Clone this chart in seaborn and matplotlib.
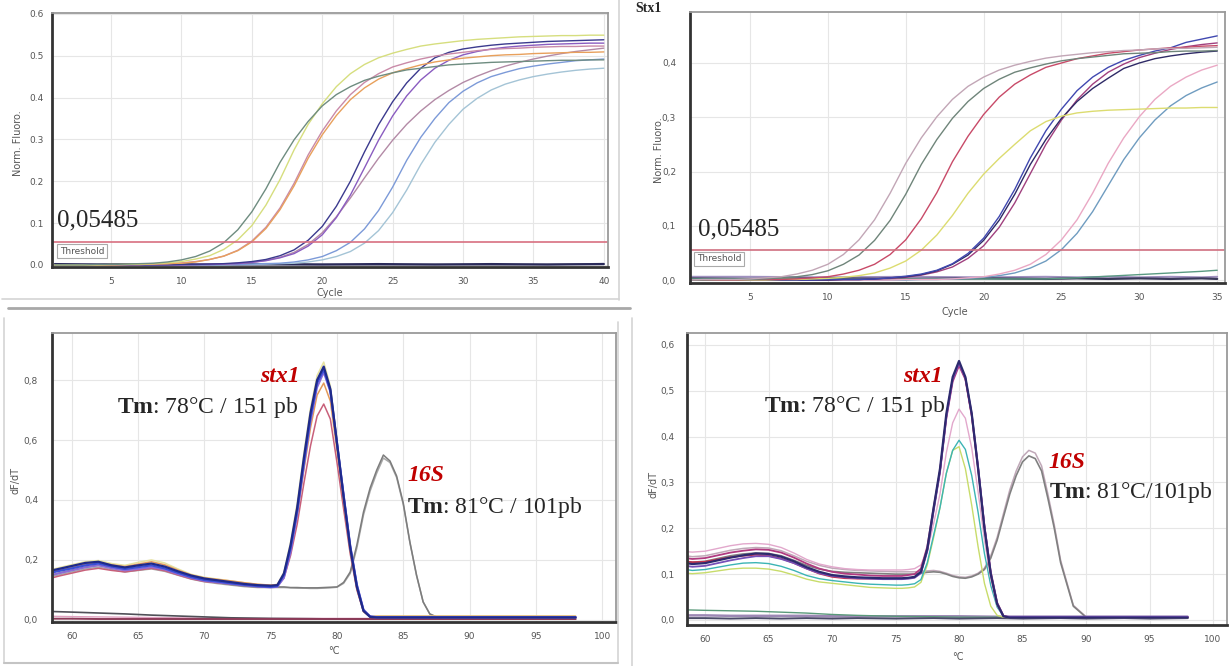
import matplotlib
matplotlib.use("Agg")
import matplotlib.pyplot as plt
from matplotlib.lines import Line2D
import seaborn as sns

sns.set_style("whitegrid")
plt.rcParams['font.family'] = ['DejaVu Sans']
plt.rcParams['mathtext.fontset'] = 'custom'
plt.rcParams['mathtext.rm'] = 'Liberation Serif'
plt.rcParams['mathtext.bf'] = 'Liberation Serif:bold'

W, H = 1230, 666
threshold = 0.05485

# ---------------- amplification, left (40 cycles) ----------------
cycles_tl = list(range(1, 41))
tl_gray = [0.000, 0.000, 0.000, 0.001, 0.001, 0.002, 0.003, 0.004, 0.007, 0.012,
           0.020, 0.033, 0.053, 0.084, 0.127, 0.182, 0.245, 0.299, 0.343, 0.380,
           0.407, 0.426, 0.441, 0.451, 0.459, 0.466, 0.470, 0.474, 0.478, 0.480,
           0.482, 0.484, 0.485, 0.486, 0.487, 0.488, 0.489, 0.489, 0.490, 0.490]
tl_yellow = [0.000, 0.000, 0.000, 0.000, 0.001, 0.001, 0.002, 0.003, 0.005, 0.008,
             0.014, 0.022, 0.037, 0.060, 0.094, 0.143, 0.204, 0.275, 0.336, 0.385,
             0.426, 0.457, 0.479, 0.495, 0.506, 0.515, 0.523, 0.528, 0.532, 0.536,
             0.539, 0.541, 0.543, 0.545, 0.546, 0.547, 0.548, 0.548, 0.549, 0.549]
tl_orange = [0.000, 0.000, 0.000, 0.000, 0.000, 0.001, 0.001, 0.002, 0.003, 0.004,
             0.007, 0.013, 0.021, 0.034, 0.055, 0.087, 0.132, 0.189, 0.255, 0.311,
             0.357, 0.395, 0.423, 0.444, 0.459, 0.469, 0.478, 0.485, 0.490, 0.494,
             0.497, 0.500, 0.502, 0.503, 0.505, 0.506, 0.507, 0.508, 0.508, 0.509]
tl_pink = [0.000, 0.000, 0.000, 0.000, 0.000, 0.001, 0.001, 0.002, 0.003, 0.005,
           0.008, 0.013, 0.021, 0.035, 0.057, 0.090, 0.136, 0.195, 0.263, 0.320,
           0.368, 0.407, 0.436, 0.457, 0.473, 0.483, 0.492, 0.499, 0.504, 0.508,
           0.512, 0.515, 0.517, 0.518, 0.520, 0.521, 0.522, 0.522, 0.523, 0.523]
tl_navy = [0.000, 0.000, 0.000, 0.000, 0.000, 0.000, 0.000, 0.000, 0.000, 0.001,
           0.001, 0.002, 0.003, 0.005, 0.008, 0.013, 0.022, 0.036, 0.059, 0.092,
           0.140, 0.200, 0.270, 0.335, 0.390, 0.435, 0.470, 0.495, 0.508, 0.516,
           0.521, 0.525, 0.528, 0.530, 0.532, 0.534, 0.535, 0.536, 0.537, 0.538]
tl_purple = [0.000, 0.000, 0.000, 0.000, 0.000, 0.000, 0.000, 0.000, 0.000, 0.000,
             0.001, 0.001, 0.002, 0.003, 0.006, 0.010, 0.017, 0.027, 0.045, 0.072,
             0.113, 0.167, 0.232, 0.298, 0.356, 0.404, 0.442, 0.470, 0.489, 0.502,
             0.510, 0.516, 0.520, 0.523, 0.525, 0.527, 0.528, 0.529, 0.530, 0.530]
tl_mauve = [0.000, 0.000, 0.000, 0.000, 0.000, 0.000, 0.000, 0.000, 0.000, 0.000,
            0.001, 0.001, 0.002, 0.004, 0.006, 0.011, 0.018, 0.030, 0.049, 0.077,
            0.115, 0.160, 0.208, 0.255, 0.298, 0.336, 0.368, 0.395, 0.417, 0.436,
            0.451, 0.464, 0.475, 0.484, 0.492, 0.499, 0.505, 0.510, 0.514, 0.518]
tl_blue = [0.000, 0.000, 0.000, 0.000, 0.000, 0.000, 0.000, 0.000, 0.000, 0.000,
           0.000, 0.000, 0.001, 0.001, 0.002, 0.003, 0.004, 0.007, 0.012, 0.020,
           0.034, 0.054, 0.086, 0.130, 0.186, 0.250, 0.305, 0.350, 0.388, 0.415,
           0.435, 0.450, 0.460, 0.469, 0.475, 0.480, 0.484, 0.488, 0.490, 0.492]
tl_lightblue = [0.000, 0.000, 0.000, 0.000, 0.000, 0.000, 0.000, 0.000, 0.000, 0.000,
                0.000, 0.000, 0.000, 0.001, 0.001, 0.002, 0.003, 0.004, 0.007, 0.012,
                0.020, 0.032, 0.052, 0.082, 0.125, 0.179, 0.240, 0.293, 0.336, 0.372,
                0.398, 0.418, 0.432, 0.442, 0.450, 0.456, 0.461, 0.465, 0.468, 0.470]
neg_cycles_tl = [1, 4, 8, 12, 16, 20, 24, 28, 32, 36, 40]
tl_neg_dark = [0.002, 0.001, 0.002, 0.001, 0.002, 0.001, 0.002, 0.001, 0.002, 0.001, 0.002]
tl_neg_gray = [0.000, 0.001, 0.000, 0.001, 0.000, 0.001, 0.000, 0.001, 0.000, 0.001, 0.003]

# ---------------- amplification, right (35 cycles) ----------------
cycles_tr = list(range(1, 36))
tr_pinkgray = [0.000, 0.001, 0.001, 0.001, 0.002, 0.004, 0.006, 0.011, 0.018, 0.029,
               0.047, 0.074, 0.111, 0.160, 0.215, 0.262, 0.301, 0.333, 0.357, 0.374,
               0.387, 0.396, 0.403, 0.409, 0.413, 0.416, 0.419, 0.421, 0.423, 0.424,
               0.426, 0.427, 0.427, 0.428, 0.429]
tr_darkgray = [0.000, 0.000, 0.001, 0.001, 0.001, 0.002, 0.004, 0.006, 0.010, 0.017,
               0.029, 0.046, 0.073, 0.110, 0.158, 0.213, 0.259, 0.298, 0.329, 0.353,
               0.370, 0.383, 0.391, 0.398, 0.404, 0.408, 0.411, 0.414, 0.417, 0.418,
               0.419, 0.421, 0.422, 0.422, 0.423]
tr_red = [0.000, 0.000, 0.000, 0.000, 0.001, 0.001, 0.001, 0.002, 0.004, 0.006,
          0.011, 0.018, 0.029, 0.047, 0.074, 0.113, 0.161, 0.218, 0.265, 0.305,
          0.337, 0.361, 0.378, 0.392, 0.400, 0.408, 0.413, 0.418, 0.421, 0.424,
          0.426, 0.428, 0.429, 0.431, 0.432]
tr_yellow = [0.000, 0.000, 0.000, 0.000, 0.000, 0.000, 0.001, 0.001, 0.002, 0.003,
             0.005, 0.008, 0.013, 0.022, 0.035, 0.055, 0.083, 0.119, 0.160, 0.195,
             0.224, 0.250, 0.275, 0.292, 0.302, 0.308, 0.311, 0.313, 0.314, 0.315,
             0.316, 0.317, 0.317, 0.318, 0.318]
tr_blue = [0.000, 0.000, 0.000, 0.000, 0.000, 0.000, 0.000, 0.000, 0.000, 0.001,
           0.001, 0.001, 0.002, 0.004, 0.007, 0.011, 0.018, 0.030, 0.049, 0.077,
           0.117, 0.167, 0.225, 0.275, 0.315, 0.349, 0.374, 0.392, 0.405, 0.414,
           0.422, 0.428, 0.438, 0.444, 0.450]
tr_navy = [0.000, 0.000, 0.000, 0.000, 0.000, 0.000, 0.000, 0.000, 0.000, 0.000,
           0.001, 0.001, 0.002, 0.004, 0.006, 0.010, 0.017, 0.029, 0.046, 0.073,
           0.110, 0.158, 0.213, 0.259, 0.298, 0.329, 0.353, 0.372, 0.390, 0.400,
           0.408, 0.413, 0.417, 0.420, 0.422]
tr_magenta = [0.000, 0.000, 0.000, 0.000, 0.000, 0.000, 0.000, 0.000, 0.000, 0.000,
              0.001, 0.001, 0.002, 0.003, 0.005, 0.009, 0.015, 0.024, 0.040, 0.063,
              0.097, 0.142, 0.196, 0.250, 0.295, 0.332, 0.361, 0.383, 0.398, 0.410,
              0.418, 0.425, 0.430, 0.434, 0.437]
tr_pink = [0.000, 0.000, 0.000, 0.000, 0.000, 0.000, 0.000, 0.000, 0.000, 0.000,
           0.000, 0.000, 0.000, 0.000, 0.001, 0.001, 0.001, 0.002, 0.004, 0.006,
           0.011, 0.018, 0.029, 0.047, 0.074, 0.111, 0.160, 0.215, 0.262, 0.301,
           0.333, 0.357, 0.374, 0.387, 0.396]
tr_teal = [0.000, 0.000, 0.000, 0.000, 0.000, 0.000, 0.000, 0.000, 0.000, 0.000,
           0.000, 0.000, 0.000, 0.000, 0.000, 0.001, 0.001, 0.002, 0.003, 0.005,
           0.008, 0.013, 0.022, 0.035, 0.056, 0.086, 0.126, 0.174, 0.222, 0.262,
           0.295, 0.321, 0.340, 0.354, 0.365]
neg_cycles_tr = [1, 5, 10, 15, 20, 24, 26, 28, 30, 32, 34, 35]
tr_green = [0.002, 0.002, 0.002, 0.002, 0.002, 0.002, 0.004, 0.007, 0.010, 0.013, 0.016, 0.018]
tr_neg_dark = [0.003, 0.002, 0.003, 0.002, 0.003, 0.002, 0.003, 0.002, 0.003, 0.002, 0.003, 0.002]
tr_neg_lav = [0.006, 0.006, 0.005, 0.006, 0.005, 0.006, 0.005, 0.006, 0.005, 0.006, 0.005, 0.006]

# ---------------- melt curves (shared temperature grid) ----------------
temps = [58.5, 59, 60, 61, 62, 63, 64, 65, 66, 67, 68, 69, 70, 71, 72, 73, 74, 75,
         75.5, 76, 76.5, 77, 77.5, 78, 78.5, 79, 79.5, 80, 80.5, 81, 81.5, 82, 82.5,
         83, 83.5, 84, 84.5, 85, 85.5, 86, 86.5, 87, 87.5, 88,
         89, 90, 91, 92, 93, 94, 95, 96, 97, 98]
neg_temps = [58.5, 60, 62, 64, 66, 68, 70, 72, 75, 78, 80, 83, 85, 88, 90, 93, 95, 98]

bl_navy = ([0.165, 0.170, 0.180, 0.190, 0.194, 0.182, 0.175, 0.182, 0.188, 0.178, 0.162, 0.148, 0.138, 0.132, 0.126, 0.120, 0.116, 0.114]
           + [0.116, 0.155, 0.250, 0.375, 0.540, 0.690, 0.800, 0.845, 0.770, 0.590, 0.410, 0.240, 0.110, 0.030, 0.010, 0.008, 0.008, 0.008, 0.008, 0.008, 0.008, 0.008, 0.008, 0.008, 0.008, 0.008]
           + [0.008, 0.008, 0.008, 0.008, 0.008, 0.008, 0.008, 0.008, 0.008, 0.008])
bl_blue = ([0.158, 0.163, 0.172, 0.182, 0.188, 0.178, 0.170, 0.176, 0.182, 0.172, 0.157, 0.143, 0.133, 0.128, 0.122, 0.117, 0.113, 0.110]
           + [0.113, 0.150, 0.240, 0.365, 0.525, 0.675, 0.790, 0.835, 0.765, 0.590, 0.415, 0.245, 0.115, 0.032, 0.011, 0.009, 0.009, 0.009, 0.009, 0.009, 0.009, 0.009, 0.009, 0.009, 0.009, 0.009]
           + [0.009, 0.009, 0.009, 0.009, 0.009, 0.009, 0.009, 0.009, 0.009, 0.009])
bl_purple = ([0.150, 0.155, 0.165, 0.175, 0.182, 0.172, 0.165, 0.170, 0.176, 0.168, 0.153, 0.140, 0.130, 0.125, 0.120, 0.115, 0.111, 0.108]
             + [0.110, 0.140, 0.225, 0.350, 0.510, 0.660, 0.775, 0.825, 0.760, 0.590, 0.420, 0.250, 0.120, 0.035, 0.012, 0.010, 0.010, 0.010, 0.010, 0.010, 0.010, 0.010, 0.010, 0.010, 0.010, 0.010]
             + [0.010, 0.010, 0.010, 0.010, 0.010, 0.010, 0.010, 0.010, 0.010, 0.010])
bl_orange = ([0.160, 0.166, 0.176, 0.186, 0.192, 0.184, 0.178, 0.186, 0.194, 0.184, 0.166, 0.150, 0.140, 0.135, 0.130, 0.124, 0.119, 0.116]
             + [0.118, 0.150, 0.235, 0.350, 0.500, 0.640, 0.750, 0.790, 0.730, 0.565, 0.395, 0.230, 0.105, 0.028, 0.010, 0.012, 0.012, 0.012, 0.012, 0.012, 0.012, 0.012, 0.012, 0.012, 0.012, 0.012]
             + [0.012, 0.012, 0.012, 0.012, 0.012, 0.012, 0.012, 0.012, 0.012, 0.012])
bl_pink = ([0.140, 0.146, 0.156, 0.166, 0.172, 0.165, 0.160, 0.166, 0.172, 0.164, 0.150, 0.137, 0.128, 0.124, 0.120, 0.116, 0.112, 0.110]
           + [0.112, 0.140, 0.215, 0.320, 0.455, 0.580, 0.680, 0.720, 0.670, 0.525, 0.370, 0.220, 0.100, 0.028, 0.010, 0.007, 0.007, 0.007, 0.007, 0.007, 0.007, 0.007, 0.007, 0.007, 0.007, 0.007]
           + [0.007, 0.007, 0.007, 0.007, 0.007, 0.007, 0.007, 0.007, 0.007, 0.007])
bl_yellow = ([0.168, 0.174, 0.184, 0.194, 0.198, 0.188, 0.182, 0.192, 0.200, 0.190, 0.170, 0.152, 0.142, 0.136, 0.130, 0.124, 0.118, 0.116]
             + [0.118, 0.160, 0.260, 0.390, 0.555, 0.705, 0.815, 0.860, 0.780, 0.595, 0.410, 0.235, 0.105, 0.028, 0.012, 0.013, 0.013, 0.013, 0.013, 0.013, 0.013, 0.013, 0.013, 0.013, 0.013, 0.013]
             + [0.013, 0.013, 0.013, 0.013, 0.013, 0.013, 0.013, 0.013, 0.013, 0.013])
bl_gray = ([0.150, 0.156, 0.166, 0.176, 0.182, 0.174, 0.166, 0.170, 0.176, 0.168, 0.154, 0.140, 0.130, 0.124, 0.118, 0.113, 0.110, 0.110]
           + [0.110, 0.110, 0.108, 0.108, 0.107, 0.107, 0.107, 0.108, 0.109, 0.110, 0.125, 0.160, 0.250, 0.360, 0.440, 0.500, 0.550, 0.530, 0.480, 0.390, 0.260, 0.150, 0.060, 0.020, 0.010, 0.008]
           + [0.008, 0.008, 0.008, 0.008, 0.008, 0.008, 0.008, 0.008, 0.008, 0.008])
bl_gray2 = ([0.145, 0.150, 0.160, 0.170, 0.176, 0.168, 0.160, 0.165, 0.170, 0.162, 0.149, 0.136, 0.127, 0.121, 0.116, 0.111, 0.108, 0.108]
            + [0.108, 0.108, 0.107, 0.106, 0.106, 0.105, 0.105, 0.106, 0.107, 0.109, 0.122, 0.155, 0.240, 0.350, 0.430, 0.490, 0.540, 0.525, 0.475, 0.385, 0.258, 0.148, 0.060, 0.020, 0.010, 0.008]
            + [0.008, 0.008, 0.008, 0.008, 0.008, 0.008, 0.008, 0.008, 0.008, 0.008])
bl_neg_gray = [0.028, 0.026, 0.023, 0.020, 0.016, 0.013, 0.010, 0.007, 0.005, 0.004, 0.003, 0.003, 0.003, 0.003, 0.003, 0.003, 0.003, 0.003]
bl_neg_red = [0.004, 0.004, 0.003, 0.003, 0.003, 0.003, 0.003, 0.003, 0.003, 0.003, 0.003, 0.003, 0.003, 0.003, 0.003, 0.003, 0.003, 0.003]
bl_neg_pink = [0.012, 0.011, 0.010, 0.009, 0.008, 0.007, 0.006, 0.005, 0.005, 0.005, 0.005, 0.005, 0.005, 0.005, 0.005, 0.005, 0.005, 0.005]

br_navy = ([0.124, 0.122, 0.124, 0.130, 0.136, 0.141, 0.145, 0.144, 0.138, 0.128, 0.115, 0.105, 0.098, 0.095, 0.093, 0.092, 0.091, 0.091]
           + [0.091, 0.092, 0.094, 0.105, 0.155, 0.245, 0.330, 0.450, 0.530, 0.565, 0.530, 0.450, 0.330, 0.200, 0.100, 0.035, 0.008, 0.005, 0.005, 0.005, 0.005, 0.005, 0.005, 0.005, 0.005, 0.005]
           + [0.005, 0.005, 0.005, 0.005, 0.005, 0.005, 0.005, 0.005, 0.005, 0.005])
br_magenta = ([0.135, 0.133, 0.135, 0.141, 0.147, 0.151, 0.154, 0.153, 0.147, 0.136, 0.123, 0.112, 0.105, 0.101, 0.099, 0.097, 0.096, 0.096]
              + [0.096, 0.098, 0.100, 0.112, 0.160, 0.245, 0.325, 0.440, 0.520, 0.555, 0.525, 0.445, 0.330, 0.205, 0.105, 0.038, 0.009, 0.006, 0.006, 0.006, 0.006, 0.006, 0.006, 0.006, 0.006, 0.006]
              + [0.006, 0.006, 0.006, 0.006, 0.006, 0.006, 0.006, 0.006, 0.006, 0.006])
br_purple = ([0.118, 0.116, 0.118, 0.124, 0.130, 0.135, 0.139, 0.139, 0.133, 0.124, 0.112, 0.102, 0.096, 0.093, 0.091, 0.090, 0.089, 0.089]
             + [0.089, 0.090, 0.092, 0.102, 0.150, 0.238, 0.322, 0.442, 0.525, 0.560, 0.528, 0.450, 0.335, 0.205, 0.102, 0.036, 0.008, 0.007, 0.007, 0.007, 0.007, 0.007, 0.007, 0.007, 0.007, 0.007]
             + [0.007, 0.007, 0.007, 0.007, 0.007, 0.007, 0.007, 0.007, 0.007, 0.007])
br_red = ([0.128, 0.126, 0.127, 0.132, 0.137, 0.140, 0.142, 0.140, 0.134, 0.124, 0.112, 0.101, 0.094, 0.091, 0.090, 0.090, 0.090, 0.090]
          + [0.090, 0.091, 0.093, 0.104, 0.152, 0.240, 0.325, 0.445, 0.525, 0.558, 0.527, 0.447, 0.332, 0.202, 0.100, 0.035, 0.008, 0.006, 0.006, 0.006, 0.006, 0.006, 0.006, 0.006, 0.006, 0.006]
          + [0.006, 0.006, 0.006, 0.006, 0.006, 0.006, 0.006, 0.006, 0.006, 0.006])
br_lightpink = ([0.149, 0.148, 0.150, 0.156, 0.162, 0.166, 0.167, 0.165, 0.158, 0.146, 0.132, 0.122, 0.116, 0.112, 0.110, 0.109, 0.109, 0.109]
                + [0.109, 0.110, 0.112, 0.120, 0.150, 0.210, 0.275, 0.365, 0.430, 0.460, 0.440, 0.375, 0.280, 0.175, 0.090, 0.032, 0.008, 0.006, 0.006, 0.006, 0.006, 0.006, 0.006, 0.006, 0.006, 0.006]
                + [0.006, 0.006, 0.006, 0.006, 0.006, 0.006, 0.006, 0.006, 0.006, 0.006])
br_teal = ([0.110, 0.108, 0.110, 0.115, 0.120, 0.124, 0.125, 0.123, 0.117, 0.108, 0.097, 0.090, 0.086, 0.083, 0.080, 0.078, 0.077, 0.076]
           + [0.076, 0.077, 0.079, 0.088, 0.125, 0.185, 0.245, 0.320, 0.370, 0.392, 0.372, 0.315, 0.235, 0.145, 0.075, 0.028, 0.008, 0.006, 0.006, 0.006, 0.006, 0.006, 0.006, 0.006, 0.006, 0.006]
           + [0.006, 0.006, 0.006, 0.006, 0.006, 0.006, 0.006, 0.006, 0.006, 0.006])
br_yellow = ([0.102, 0.101, 0.103, 0.107, 0.111, 0.113, 0.113, 0.111, 0.106, 0.098, 0.089, 0.083, 0.080, 0.077, 0.074, 0.071, 0.070, 0.069]
             + [0.069, 0.070, 0.072, 0.082, 0.120, 0.180, 0.245, 0.320, 0.370, 0.378, 0.330, 0.250, 0.160, 0.080, 0.030, 0.010, 0.006, 0.005, 0.005, 0.005, 0.005, 0.005, 0.005, 0.005, 0.005, 0.005]
             + [0.005, 0.005, 0.005, 0.005, 0.005, 0.005, 0.005, 0.005, 0.005, 0.005])
br_gray = ([0.128, 0.126, 0.128, 0.134, 0.140, 0.144, 0.146, 0.145, 0.140, 0.130, 0.119, 0.111, 0.106, 0.104, 0.103, 0.102, 0.101, 0.100]
           + [0.100, 0.100, 0.100, 0.102, 0.104, 0.105, 0.104, 0.100, 0.095, 0.092, 0.091, 0.094, 0.100, 0.110, 0.135, 0.174, 0.225, 0.275, 0.315, 0.345, 0.358, 0.352, 0.325, 0.265, 0.200, 0.125]
           + [0.030, 0.006, 0.005, 0.005, 0.005, 0.005, 0.005, 0.005, 0.005, 0.005])
br_gray2 = ([0.140, 0.138, 0.140, 0.146, 0.152, 0.156, 0.158, 0.157, 0.151, 0.140, 0.128, 0.119, 0.113, 0.110, 0.108, 0.107, 0.106, 0.105]
            + [0.105, 0.105, 0.105, 0.106, 0.107, 0.108, 0.106, 0.102, 0.097, 0.094, 0.093, 0.096, 0.102, 0.113, 0.140, 0.180, 0.232, 0.284, 0.325, 0.356, 0.370, 0.364, 0.336, 0.274, 0.207, 0.130]
            + [0.032, 0.007, 0.005, 0.005, 0.005, 0.005, 0.005, 0.005, 0.005, 0.005])
br_neg_green = [0.022, 0.021, 0.020, 0.019, 0.017, 0.015, 0.012, 0.010, 0.008, 0.007, 0.006, 0.006, 0.005, 0.005, 0.005, 0.005, 0.005, 0.005]
br_neg_lav = [0.010, 0.010, 0.009, 0.009, 0.009, 0.009, 0.008, 0.008, 0.008, 0.008, 0.008, 0.007, 0.007, 0.007, 0.007, 0.007, 0.007, 0.007]
br_neg_dark = [0.004, 0.004, 0.003, 0.004, 0.003, 0.004, 0.003, 0.004, 0.003, 0.004, 0.003, 0.004, 0.003, 0.004, 0.003, 0.004, 0.003, 0.004]

fig = plt.figure(figsize=(W / 100, H / 100), dpi=100)
fig.patch.set_facecolor('white')


def add_axes_px(left, top, right, bottom):
    return fig.add_axes([left / W, 1 - bottom / H, (right - left) / W, (bottom - top) / H])


def fig_text(x, y, s, **kw):
    fig.text(x / W, 1 - y / H, s, **kw)


def fig_line(x0, y0, x1, y1, color, lw):
    fig.add_artist(Line2D([x0 / W, x1 / W], [1 - y0 / H, 1 - y1 / H],
                          transform=fig.transFigure, color=color, linewidth=lw))


def draw(ax, x, y, color, lw=1.0):
    sns.lineplot(x=x, y=y, ax=ax, color=color, linewidth=lw,
                 estimator=None, sort=False, legend=False)


def style(ax, xlim, ylim, xticks, yticks, comma, ypad):
    ax.set_facecolor('white')
    ax.set_xlim(*xlim)
    ax.set_ylim(*ylim)
    ax.set_xticks(xticks)
    ax.set_xticklabels([str(t) for t in xticks])
    ax.set_yticks(yticks)
    labels = [f"{v:.1f}" for v in yticks]
    if comma:
        labels = [s.replace('.', ',') for s in labels]
    ax.set_yticklabels(labels)
    ax.grid(True, color='#e6e6e6', linewidth=0.8)
    ax.tick_params(axis='both', labelsize=6.5, labelcolor='#555555', color='#777777',
                   length=2, width=0.8, direction='out')
    ax.tick_params(axis='x', pad=5)
    ax.tick_params(axis='y', pad=ypad)
    for side in ['left', 'bottom']:
        ax.spines[side].set_color('#333333')
        ax.spines[side].set_linewidth(2)
    for side in ['top', 'right']:
        ax.spines[side].set_color('#9a9a9a')
        ax.spines[side].set_linewidth(1.3)
    ax.set_xlabel('')
    ax.set_ylabel('')


lab = dict(fontsize=7, color='#555555', ha='center', va='center')
serif = 'Liberation Serif'
red = '#c00000'

# screenshot frames
fig_line(619, 0, 619, 300, '#d4d4d4', 1.2)
fig_line(2, 299, 619, 299, '#d4d4d4', 1.2)
fig_line(8, 308, 630, 308, '#a8a8a8', 2)
fig_line(4, 318, 4, 663, '#d4d4d4', 1.2)
fig_line(618, 322, 618, 663, '#d4d4d4', 1.2)
fig_line(4, 663, 618, 663, '#c4c4c4', 1.5)
fig_line(632, 318, 632, 666, '#d4d4d4', 1.2)

# ---- top left: amplification ----
ax = add_axes_px(52, 13, 608, 267)
draw(ax, neg_cycles_tl, tl_neg_gray, '#8a8a9a', 1.2)
draw(ax, neg_cycles_tl, tl_neg_dark, '#2a2a5a', 1.6)
for vals, color in [(tl_lightblue, '#a4c4d6'), (tl_blue, '#7c9ad8'), (tl_mauve, '#b38aa6'),
                    (tl_purple, '#8a5cc0'), (tl_navy, '#3b3a8e'), (tl_pink, '#c98aa8'),
                    (tl_orange, '#e8a05c'), (tl_yellow, '#d6de7e'), (tl_gray, '#6e8c80')]:
    draw(ax, cycles_tl, vals, color, 1.0)
ax.axhline(threshold, color='#d87080', linewidth=1.2)
style(ax, (0.8, 40.3), (-0.005, 0.602), [5, 10, 15, 20, 25, 30, 35, 40],
      [0.0, 0.1, 0.2, 0.3, 0.4, 0.5, 0.6], False, 4)
fig_text(330, 293, 'Cycle', **lab)
fig_text(18, 143, 'Norm. Fluoro.', rotation=90, **lab)
fig_text(57, 226, '0,05485', fontsize=18, family=serif, va='baseline')
fig_text(60, 251, 'Threshold', fontsize=6.5, color='#555555', va='center',
         bbox=dict(boxstyle='square,pad=0.3', fc='white', ec='#aaaaaa', lw=0.8))

# ---- top right: amplification ----
ax = add_axes_px(690, 12, 1225, 283)
draw(ax, neg_cycles_tr, tr_neg_lav, '#a090c0', 1.4)
draw(ax, neg_cycles_tr, tr_neg_dark, '#3a3a5a', 1.6)
draw(ax, neg_cycles_tr, tr_green, '#5a9a82', 1.0)
for vals, color in [(tr_teal, '#6f9cc0'), (tr_pink, '#eaa8c4'), (tr_magenta, '#a0407e'),
                    (tr_navy, '#2e2a66'), (tr_blue, '#4048b0'), (tr_yellow, '#dcdc70'),
                    (tr_red, '#c84a68'), (tr_darkgray, '#6f857a'), (tr_pinkgray, '#c2a6b6')]:
    draw(ax, cycles_tr, vals, color, 1.0)
ax.axhline(threshold, color='#d07080', linewidth=1.2)
style(ax, (1.15, 35.5), (-0.0055, 0.494), [5, 10, 15, 20, 25, 30, 35],
      [0.0, 0.1, 0.2, 0.3, 0.4], True, 8)
fig_text(955, 312, 'Cycle', **lab)
fig_text(659, 150, 'Norm. Fluoro.', rotation=90, **lab)
fig_text(698, 235, '0,05485', fontsize=18, family=serif, va='baseline')
fig_text(697, 259, 'Threshold', fontsize=6.5, color='#555555', va='center',
         bbox=dict(boxstyle='square,pad=0.3', fc='white', ec='#aaaaaa', lw=0.8))

# ---- bottom left: melt curves ----
ax = add_axes_px(52, 333, 616, 622)
draw(ax, neg_temps, bl_neg_pink, '#e0a0c0', 1.0)
draw(ax, neg_temps, bl_neg_gray, '#505058', 1.2)
draw(ax, neg_temps, bl_neg_red, '#8c3a58', 1.4)
for vals, color, lw in [(bl_gray2, '#a8a8a8', 1.1), (bl_gray, '#7c7c7c', 1.1),
                        (bl_yellow, '#e6e2a0', 1.1), (bl_pink, '#c8607a', 1.1),
                        (bl_orange, '#e39a5a', 1.1), (bl_purple, '#8c6cd8', 1.3),
                        (bl_blue, '#3b4fd6', 1.6), (bl_navy, '#1f2a8a', 1.6)]:
    draw(ax, temps, vals, color, lw)
style(ax, (58.5, 101.05), (-0.007, 0.957), [60, 65, 70, 75, 80, 85, 90, 95, 100],
      [0.0, 0.2, 0.4, 0.6, 0.8], True, 8)
fig_text(334, 651, '°C', **lab)
fig_text(16, 480, 'dF/dT', rotation=90, **lab)
fig_text(260, 382, 'stx1', fontsize=17, family=serif, weight='bold', style='italic',
         color=red, va='baseline')
fig_text(117, 413, r'$\mathbf{Tm}$: 78°C / 151 pb', fontsize=17, family=serif, va='baseline')
fig_text(407, 481, '16S', fontsize=17, family=serif, weight='bold', style='italic',
         color=red, va='baseline')
fig_text(407, 513, r'$\mathbf{Tm}$: 81°C / 101pb', fontsize=17, family=serif, va='baseline')

# ---- bottom right: melt curves ----
ax = add_axes_px(687, 333, 1227, 625)
draw(ax, neg_temps, br_neg_lav, '#9c88b4', 1.8)
draw(ax, neg_temps, br_neg_green, '#5a9a7a', 1.0)
draw(ax, neg_temps, br_neg_dark, '#4a4a68', 1.4)
for vals, color, lw in [(br_gray2, '#c0a8b8', 1.1), (br_gray, '#808080', 1.2),
                        (br_yellow, '#c8dc6a', 1.0), (br_teal, '#3cb4b4', 1.0),
                        (br_lightpink, '#e2a8cc', 1.0), (br_red, '#c8304a', 1.2),
                        (br_magenta, '#b03a80', 1.3), (br_purple, '#7650b8', 1.3),
                        (br_navy, '#2d2a6e', 1.6)]:
    draw(ax, temps, vals, color, lw)
style(ax, (58.58, 101.1), (-0.011, 0.626), [60, 65, 70, 75, 80, 85, 90, 95, 100],
      [0.0, 0.1, 0.2, 0.3, 0.4, 0.5, 0.6], True, 7)
fig_text(958, 657, '°C', **lab)
fig_text(654, 485, 'dF/dT', rotation=90, **lab)
fig_text(903, 382, 'stx1', fontsize=17, family=serif, weight='bold', style='italic',
         color=red, va='baseline')
fig_text(764, 412, r'$\mathbf{Tm}$: 78°C / 151 pb', fontsize=17, family=serif, va='baseline')
fig_text(1048, 468, '16S', fontsize=17, family=serif, weight='bold', style='italic',
         color=red, va='baseline')
fig_text(1049, 498, r'$\mathbf{Tm}$: 81°C/101pb', fontsize=17, family=serif, va='baseline')

# title sits in the gap above the two top panels
fig_text(648, 2, 'Stx1', fontsize=10, family=serif, weight='bold', ha='center', va='top')

fig.savefig('out.png', dpi=100)
